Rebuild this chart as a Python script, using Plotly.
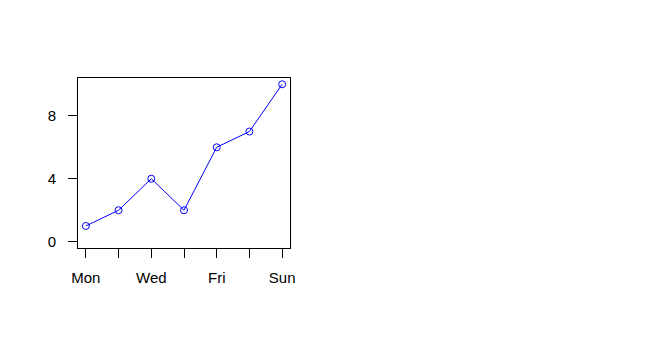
import plotly.graph_objects as go

days = ["Mon", "Tue", "Wed", "Thu", "Fri", "Sat", "Sun"]
values = [1, 2, 4, 2, 6, 7, 10]
tick_labels = ["Mon", "", "Wed", "", "Fri", "", "Sun"]
y_ticks = [0, 4, 8]

fig = go.Figure()
fig.add_trace(go.Scatter(
    x=list(range(len(days))), y=values, mode="lines+markers",
    line=dict(color="#0000FF", width=1),
    marker=dict(symbol="circle-open", size=7, color="#0000FF", line=dict(width=1, color="#0000FF")),
    hoverinfo="skip", showlegend=False,
))

fig.update_layout(
    width=662, height=346,
    margin=dict(l=78, r=372, t=78, b=98),
    paper_bgcolor="white", plot_bgcolor="white",
    font=dict(family="Liberation Sans, Arial", size=15, color="black"),
)
fig.update_xaxes(
    range=[-0.24, 6.24], tickvals=list(range(len(days))), ticktext=tick_labels,
    showgrid=False, zeroline=False, showline=True, mirror=True, linecolor="black", linewidth=1,
    ticks="outside", ticklen=9, tickcolor="black", tickwidth=1, ticklabelstandoff=7,
)
fig.update_yaxes(
    range=[-0.4, 10.4], tickvals=y_ticks,
    showgrid=False, zeroline=False, showline=True, mirror=True, linecolor="black", linewidth=1,
    ticks="outside", ticklen=9, tickcolor="black", tickwidth=1, ticklabelstandoff=9,
)

fig.write_html("out.html")
